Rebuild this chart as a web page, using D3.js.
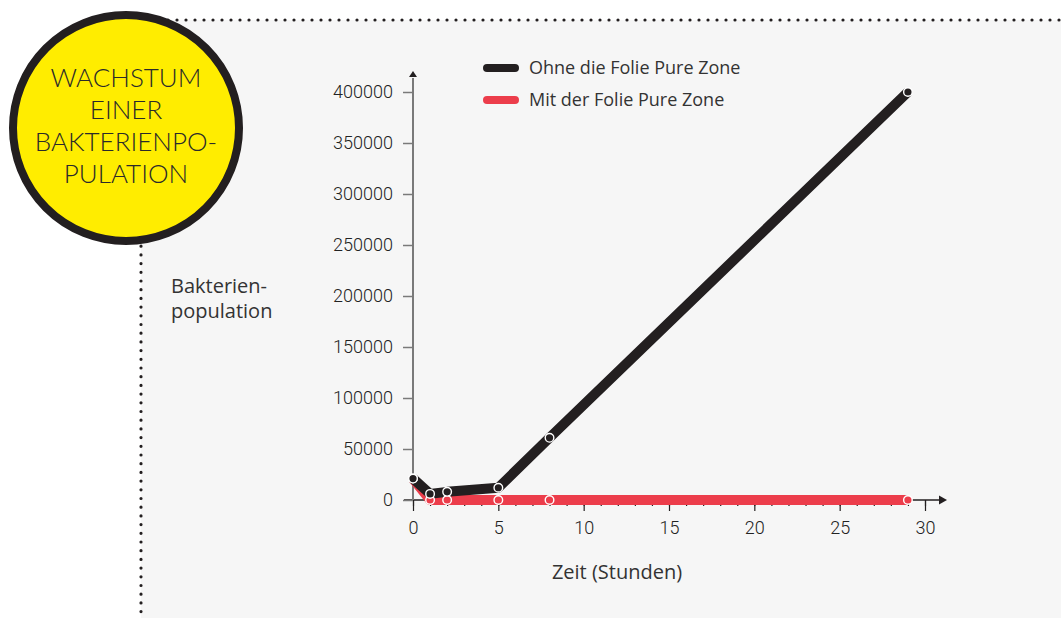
<!DOCTYPE html>
<html>
<head>
<meta charset="utf-8">
<script src="https://cdn.jsdelivr.net/npm/d3@7"></script>
<style>
  body { margin: 0; background: #fff; }
  text { font-family: "Open Sans", Lato, sans-serif; fill: #333; }
  .tick text { font-family: Roboto, sans-serif; font-weight: 300; font-size: 18px; fill: #222; }
</style>
</head>
<body>
<svg id="graph" width="1061" height="618"></svg>
<script>
// Chart data
var hours = [0, 1, 2, 5, 8, 29];
var withoutFoil = [21000, 6000, 8000, 12000, 61000, 400000];
var withFoil = [21000, 0, 0, 0, 0, 0];
var seriesNames = ["Ohne die Folie Pure Zone", "Mit der Folie Pure Zone"];
var xTickLabels = [0, 5, 10, 15, 20, 25, 30];
var yTickLabels = [0, 50000, 100000, 150000, 200000, 250000, 300000, 350000, 400000];
var titleLines = ["WACHSTUM", "EINER", "BAKTERIENPO-", "PULATION"];

var svg = d3.select("#graph"),
    width = +svg.attr("width"),
    height = +svg.attr("height");

var black = "#231f20", red = "#ec3d4b", axisColor = "#7a7a7a";

// Grey panel with dotted border
svg.append("rect").attr("x", 141).attr("y", 20)
    .attr("width", width - 141).attr("height", height - 20)
    .attr("fill", "#f6f6f6");
svg.append("line").attr("x1", 141).attr("y1", 20).attr("x2", width).attr("y2", 20)
    .attr("stroke", "#231f20").attr("stroke-width", 3.2)
    .attr("stroke-linecap", "round").attr("stroke-dasharray", "0,9");
svg.append("line").attr("x1", 141).attr("y1", 20).attr("x2", 141).attr("y2", height)
    .attr("stroke", "#231f20").attr("stroke-width", 3.2)
    .attr("stroke-linecap", "round").attr("stroke-dasharray", "0,8.7");

// Title badge
svg.append("circle").attr("cx", 126).attr("cy", 128).attr("r", 113)
    .attr("fill", "#ffed00").attr("stroke", black).attr("stroke-width", 8);
svg.append("text").attr("x", 126).attr("y", 87)
    .attr("text-anchor", "middle")
    .style("font-family", "Lato, sans-serif").style("font-weight", 300)
    .style("font-size", "26px").style("fill", "#2a2a2a")
    .selectAll("tspan").data(titleLines).enter().append("tspan")
    .attr("x", 126).attr("dy", (d, i) => i == 0 ? 0 : 32).text(d => d);

// Scales
var xScale = d3.scaleLinear().domain([0, 30]).range([413, 925]);
var yScale = d3.scaleLinear().domain([0, 400000]).range([500, 92]);

// X axis: minor then major ticks
var gx = svg.append("g").attr("transform", "translate(0,500)");
gx.call(d3.axisBottom(xScale).tickValues(d3.range(0, 31)).tickSize(6).tickFormat(""));
var gx2 = svg.append("g").attr("transform", "translate(0,500)");
gx2.call(d3.axisBottom(xScale).tickValues(xTickLabels).tickSize(11).tickPadding(10));
svg.selectAll(".domain").remove();
svg.append("line").attr("x1", 404).attr("x2", 940).attr("y1", 500).attr("y2", 500)
    .attr("stroke", black).attr("stroke-width", 1.5);
svg.append("path").attr("d", "M947,500 L939,495.5 L939,504.5 Z").attr("fill", black);

// Y axis
var gy = svg.append("g").attr("transform", "translate(413,0)");
gy.call(d3.axisLeft(yScale).tickValues(yTickLabels).tickSize(10).tickPadding(10).tickFormat(d3.format("d")));
gy.select(".domain").remove();
svg.append("line").attr("x1", 413).attr("x2", 413).attr("y1", 500).attr("y2", 78)
    .attr("stroke", axisColor).attr("stroke-width", 2);
svg.append("path").attr("d", "M413,71 L409,77 L417,77 Z").attr("fill", black);

svg.selectAll(".tick line").attr("stroke", axisColor).attr("stroke-width", 1.5);
gx.selectAll(".tick line").attr("stroke", black).attr("stroke-width", 1.2);
gx2.selectAll(".tick line").attr("stroke", black).attr("stroke-width", 1.2);

// Lines
var seriesList = [withFoil, withoutFoil];
var colors = [red, black];
var line = d3.line().x((d, i) => xScale(hours[i])).y(d => yScale(d));
for (var s = 0; s < seriesList.length; ++s) {
    svg.append("path").datum(seriesList[s])
        .attr("fill", "none")
        .attr("stroke", colors[s])
        .attr("stroke-width", 10)
        .attr("stroke-linejoin", "round")
        .attr("d", line);
}
for (var s = 0; s < seriesList.length; ++s) {
    svg.append("g").selectAll("circle").data(seriesList[s]).enter().append("circle")
        .attr("cx", (d, i) => xScale(hours[i]))
        .attr("cy", d => yScale(d))
        .attr("r", 4.3)
        .attr("fill", colors[s])
        .attr("stroke", "#fff")
        .attr("stroke-width", 1.4);
}

// Legend
var legendColors = [black, red];
for (var i = 0; i < seriesNames.length; ++i) {
    var ly = 68 + i * 32;
    svg.append("line").attr("x1", 487).attr("x2", 515).attr("y1", ly).attr("y2", ly)
        .attr("stroke", legendColors[i]).attr("stroke-width", 8).attr("stroke-linecap", "round");
    svg.append("text").attr("x", 529).attr("y", ly + 6)
        .style("font-size", "18px").text(seriesNames[i]);
}

// Axis titles
svg.append("text").attr("x", 617).attr("y", 579).attr("text-anchor", "middle")
    .style("font-size", "20px").text("Zeit (Stunden)");
svg.append("text").attr("x", 171).attr("y", 293).style("font-size", "20px").text("Bakterien-");
svg.append("text").attr("x", 171).attr("y", 318).style("font-size", "20px").text("population");
</script>
</body>
</html>
